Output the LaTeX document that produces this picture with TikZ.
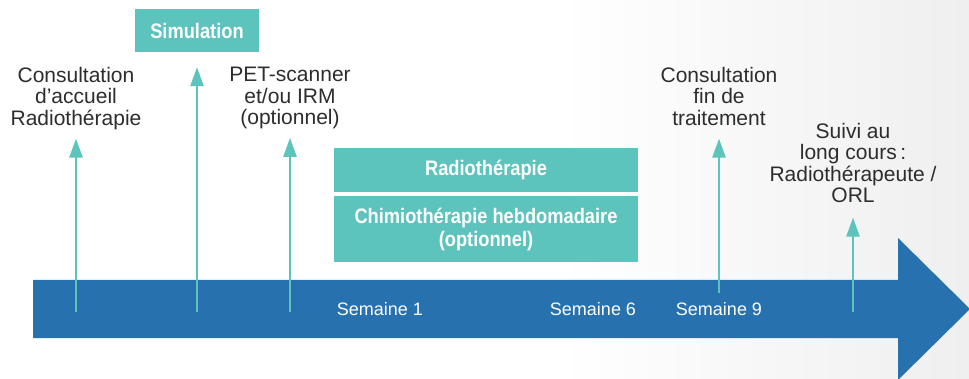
\documentclass[tikz,border=0pt]{standalone}
\usepackage{fontspec}
\setmainfont{Liberation Sans}
\newfontfamily\bcond{Liberation Sans}[FakeStretch=0.87]
\usetikzlibrary{arrows.meta}
\definecolor{teal1}{RGB}{92,196,188}
\definecolor{blue1}{RGB}{38,113,174}
\definecolor{txt}{RGB}{45,45,45}
\definecolor{bgr}{RGB}{239,239,239}
\begin{document}
\begin{tikzpicture}[x=1pt,y=-1pt,
  lbl/.style={font=\fontsize{21}{21.5}\selectfont, text=txt, align=center, inner sep=0pt, anchor=north},
  box/.style={fill=teal1, text=white, font=\bcond\bfseries\fontsize{21}{23}\selectfont, align=center, inner sep=0pt},
  wk/.style={text=white, font=\fontsize{18}{20}\selectfont, inner sep=0pt},
  conn/.style={draw=teal1, line width=2.5pt, -{Triangle[width=13pt,length=19pt]}}]
\useasboundingbox (0,0) rectangle (969,379);
\fill[white] (0,0) rectangle (969,379);
\shade[left color=white, right color=bgr] (560,0) rectangle (969,379);
% timeline arrow
\fill[blue1] (33,280) -- (898,280) -- (898,238) -- (970,309) -- (898,380) -- (898,338) -- (33,338) -- cycle;
% boxes
\node[box, minimum width=124pt, minimum height=43pt] (sim) at (197,30.5) {Simulation};
\node[box, minimum width=304pt, minimum height=44pt] (radio) at (486,170) {Radiothérapie};
\node[box, minimum width=304pt, minimum height=66pt] (chimio) at (486,229) {Chimiothérapie hebdomadaire\\(optionnel)};
% labels
\node[lbl] (t1) at (76,67) {Consultation\\d’accueil\\Radiothérapie};
\node[lbl] (t3) at (290,67) {PET-scanner\\et/ou IRM\\(optionnel)};
\node[lbl] (t4) at (719,67) {Consultation\\fin de\\traitement};
\node[lbl] (t5) at (853,123) {Suivi au\\long cours\,:\\Radiothérapeute /\\ORL};
% weeks
\node[wk] (s1) at (380,309) {Semaine 1};
\node[wk] (s6) at (593,309) {Semaine 6};
\node[wk] (s9) at (719,309) {Semaine 9};
% connectors
\coordinate (b1) at (76,312);
\coordinate (b2) at (197,312);
\coordinate (b3) at (290,312);
\coordinate (b4) at (719,293);
\coordinate (b5) at (853,312);
\draw[conn, shorten >=8.6pt] (b1) -- (t1);
\draw[conn, shorten >=15pt] (b2) -- (sim);
\draw[conn, shorten >=8.6pt] (b3) -- (t3);
\draw[conn, shorten >=12.8pt] (b4) -- (t4);
\draw[conn, shorten >=14.3pt] (b5) -- (t5);
\end{tikzpicture}
\end{document}
